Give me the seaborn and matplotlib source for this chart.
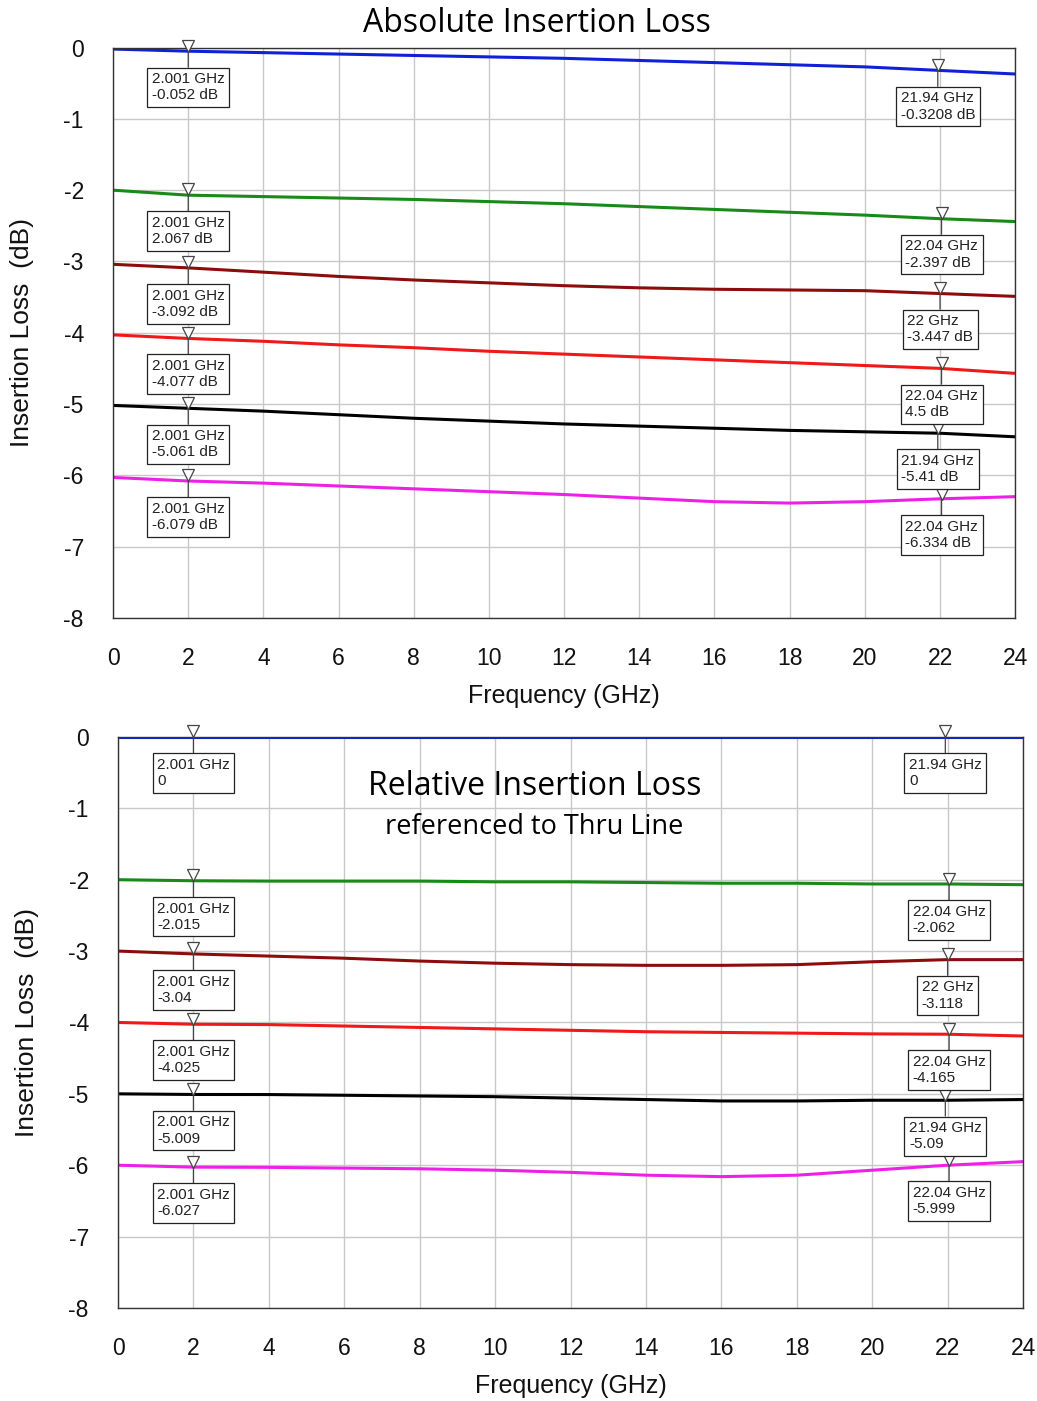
import pandas as pd
import seaborn as sns
import matplotlib.pyplot as plt
from matplotlib import transforms

freq = [0, 2, 4, 6, 8, 10, 12, 14, 16, 18, 20, 22, 24]

# absolute insertion loss (dB)
abs_blue = [-0.02, -0.05, -0.07, -0.09, -0.11, -0.13, -0.15, -0.18, -0.21, -0.24, -0.27, -0.32, -0.37]
abs_green = [-2.00, -2.07, -2.09, -2.11, -2.13, -2.16, -2.19, -2.23, -2.27, -2.31, -2.35, -2.40, -2.44]
abs_darkred = [-3.04, -3.09, -3.15, -3.21, -3.26, -3.30, -3.34, -3.37, -3.39, -3.40, -3.41, -3.45, -3.49]
abs_red = [-4.03, -4.08, -4.12, -4.17, -4.21, -4.26, -4.30, -4.34, -4.38, -4.42, -4.46, -4.50, -4.57]
abs_black = [-5.02, -5.06, -5.10, -5.15, -5.20, -5.24, -5.28, -5.31, -5.34, -5.37, -5.39, -5.41, -5.46]
abs_magenta = [-6.03, -6.08, -6.11, -6.15, -6.19, -6.23, -6.27, -6.32, -6.37, -6.39, -6.37, -6.33, -6.30]

# relative insertion loss (dB), referenced to thru line
rel_blue = [0, 0, 0, 0, 0, 0, 0, 0, 0, 0, 0, 0, 0]
rel_green = [-2.00, -2.015, -2.02, -2.02, -2.02, -2.03, -2.03, -2.04, -2.05, -2.05, -2.06, -2.06, -2.07]
rel_darkred = [-3.00, -3.04, -3.07, -3.10, -3.14, -3.17, -3.19, -3.20, -3.20, -3.19, -3.15, -3.12, -3.12]
rel_red = [-4.00, -4.025, -4.03, -4.05, -4.07, -4.09, -4.11, -4.13, -4.14, -4.15, -4.16, -4.165, -4.19]
rel_black = [-5.00, -5.009, -5.01, -5.02, -5.03, -5.04, -5.06, -5.08, -5.10, -5.10, -5.09, -5.09, -5.08]
rel_magenta = [-6.00, -6.027, -6.03, -6.04, -6.05, -6.07, -6.10, -6.14, -6.16, -6.14, -6.07, -6.00, -5.95]

traces = ["blue", "green", "darkred", "red", "black", "magenta"]
colors = ["#1020d8", "#188a18", "#8c0c0c", "#f01818", "#000000", "#ee20e8"]

# markers: (freq, value, text)
abs_markers = [
    (2.001, -0.052, "2.001 GHz\n-0.052 dB"), (21.94, -0.3208, "21.94 GHz\n-0.3208 dB"),
    (2.001, -2.067, "2.001 GHz\n2.067 dB"), (22.04, -2.397, "22.04 GHz\n-2.397 dB"),
    (2.001, -3.092, "2.001 GHz\n-3.092 dB"), (22.0, -3.447, "22 GHz\n-3.447 dB"),
    (2.001, -4.077, "2.001 GHz\n-4.077 dB"), (22.04, -4.5, "22.04 GHz\n4.5 dB"),
    (2.001, -5.061, "2.001 GHz\n-5.061 dB"), (21.94, -5.41, "21.94 GHz\n-5.41 dB"),
    (2.001, -6.079, "2.001 GHz\n-6.079 dB"), (22.04, -6.334, "22.04 GHz\n-6.334 dB"),
]
rel_markers = [
    (2.001, 0, "2.001 GHz\n0"), (21.94, 0, "21.94 GHz\n0"),
    (2.001, -2.015, "2.001 GHz\n-2.015"), (22.04, -2.062, "22.04 GHz\n-2.062"),
    (2.001, -3.04, "2.001 GHz\n-3.04"), (22.0, -3.118, "22 GHz\n-3.118"),
    (2.001, -4.025, "2.001 GHz\n-4.025"), (22.04, -4.165, "22.04 GHz\n-4.165"),
    (2.001, -5.009, "2.001 GHz\n-5.009"), (21.94, -5.09, "21.94 GHz\n-5.09"),
    (2.001, -6.027, "2.001 GHz\n-6.027"), (22.04, -5.999, "22.04 GHz\n-5.999"),
]


def long_df(series):
    rows = []
    for name, vals in zip(traces, series):
        for f, v in zip(freq, vals):
            rows.append({"freq": f, "loss": v, "trace": name})
    return pd.DataFrame(rows)


sns.set_theme(style="whitegrid")
plt.rcParams["font.family"] = ["Liberation Sans", "DejaVu Sans"]
plt.rcParams["axes.unicode_minus"] = False

fig = plt.figure(figsize=(10.37, 14.01), dpi=100)
ax1 = fig.add_axes([0.109, 0.559, 0.870, 0.407])
ax2 = fig.add_axes([0.1138, 0.0664, 0.8727, 0.4076])

panels = [
    (ax1, [abs_blue, abs_green, abs_darkred, abs_red, abs_black, abs_magenta], abs_markers),
    (ax2, [rel_blue, rel_green, rel_darkred, rel_red, rel_black, rel_magenta], rel_markers),
]

for ax, series, markers in panels:
    df = long_df(series)
    sns.lineplot(data=df, x="freq", y="loss", hue="trace", palette=colors,
                 linewidth=2.2, legend=False, ax=ax)
    ax.set_xlim(0, 24)
    ax.set_ylim(-8, 0)
    ax.set_xticks(range(0, 25, 2))
    ax.set_yticks(range(-8, 1))
    ax.grid(color="#c8c8c8", linewidth=1.0)
    for s in ax.spines.values():
        s.set_color("#333333")
        s.set_linewidth(1.0)
    ax.tick_params(length=0, pad=21, labelsize=16.5, colors="#111111")
    ax.set_xlabel("Frequency (GHz)", fontsize=18, labelpad=10, color="#111111")
    ax.set_ylabel("Insertion Loss  (dB)", fontsize=19, labelpad=21, color="#111111")

    tri = transforms.offset_copy(ax.transData, fig=fig, y=4, units="points")
    for f, v, txt in markers:
        ax.plot(f, v, marker="v", ms=9, mfc="white", mec="#444444", mew=0.9,
                transform=tri, zorder=5, clip_on=False)
        ax.annotate(txt, xy=(f, v), xytext=(0, -15), textcoords="offset points",
                    ha="center", va="top", multialignment="left", fontsize=11,
                    color="#222222",
                    bbox=dict(boxstyle="square,pad=0.3", fc="white", ec="#222222", lw=0.9),
                    arrowprops=dict(arrowstyle="-", color="#444444", lw=0.9,
                                    relpos=(0.5, 1.0), shrinkA=0, shrinkB=0),
                    zorder=6)

fig.text(0.518, 0.983, "Absolute Insertion Loss", ha="center", va="center",
         fontsize=23, family="Open Sans", color="black")
ax2.text(0.46, 0.913, "Relative Insertion Loss", transform=ax2.transAxes,
         ha="center", va="center", fontsize=23, family="Open Sans", color="black")
ax2.text(0.46, 0.842, "referenced to Thru Line", transform=ax2.transAxes,
         ha="center", va="center", fontsize=19.5, family="Open Sans", color="black")

fig.savefig("out.png", dpi=100, facecolor="white")
